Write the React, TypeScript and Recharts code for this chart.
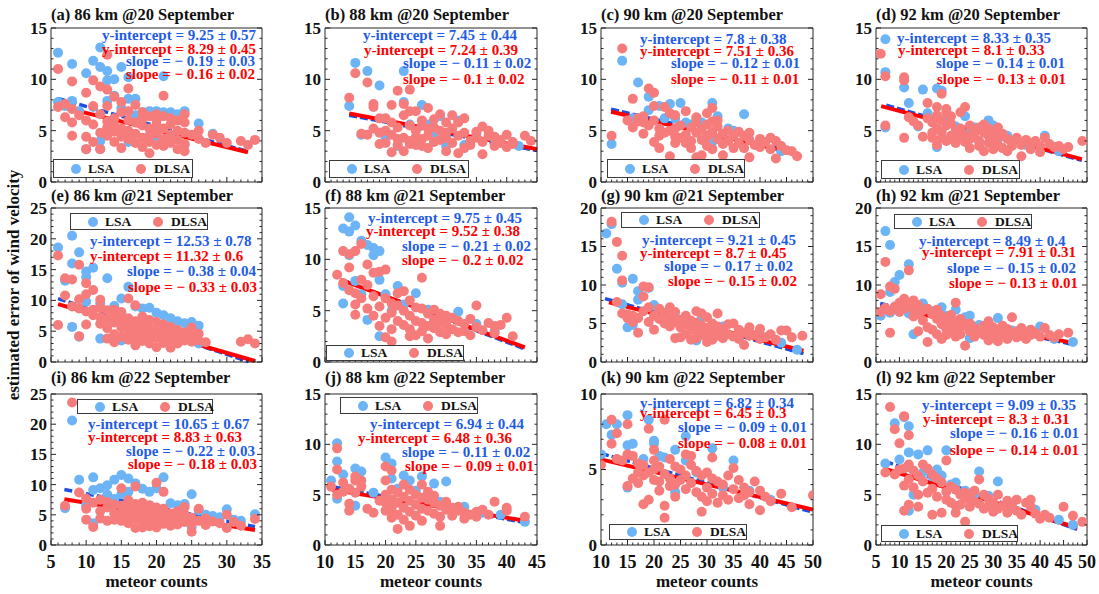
import React from "react"
import { ScatterChart, Scatter, XAxis, YAxis, ReferenceLine } from "recharts"

type Pt = [number, number]
type Seg = [number, number, number, number]

// (meteor count, estimated error) per panel
const lsaA: Pt[] = [[6,12.6],[6,7.8],[7,7.4],[8,11.5],[8,7.9],[9,6.9],[10,10.6],[10,3.2],[11,11.8],[11,7.3],[12,13.1],[12,11.2],[12,4.0],[13,10.8],[13,9.9],[13,7.9],[14,10.0],[14,8.4],[15,11.2],[15,7.2],[16,10.2],[16,8.1],[17,8.1],[17,6.5],[18,6.8],[19,6.9],[20,6.9],[21,10.3],[21,6.8],[22,6.8],[23,6.6],[24,6.9],[26,5.7],[28,4.7],[12,3.2],[16,3.9],[20,3.9],[24,3.6]]
const dlsaA: Pt[] = [[6,11.0],[6,7.3],[7,6.3],[7,7.6],[8,9.8],[8,4.5],[8,7.1],[9,6.5],[10,8.7],[10,3.2],[10,6.0],[11,9.9],[11,7.4],[11,5.6],[12,9.3],[12,4.8],[12,6.6],[12,3.2],[13,12.4],[13,9.0],[13,7.4],[13,5.3],[13,4.5],[13,5.9],[14,8.3],[14,6.2],[14,4.9],[14,3.9],[14,5.6],[15,7.8],[15,6.8],[15,5.2],[15,4.4],[15,3.3],[16,9.1],[16,6.0],[16,5.0],[16,4.2],[16,6.9],[17,7.5],[17,5.8],[17,4.7],[17,3.8],[18,6.8],[18,5.5],[18,4.3],[18,3.4],[18,6.2],[19,6.4],[19,5.2],[19,4.5],[19,3.9],[19,2.8],[20,6.6],[20,5.5],[20,4.7],[20,3.6],[20,6.0],[21,8.4],[21,6.4],[21,5.2],[21,4.2],[21,3.5],[22,6.2],[22,5.6],[22,4.6],[22,3.8],[23,6.0],[23,5.0],[23,4.1],[23,3.2],[24,6.6],[24,5.8],[24,4.8],[24,3.7],[24,3.0],[25,4.6],[26,5.0],[26,4.2],[27,3.8],[28,4.6],[29,4.3],[30,3.8],[32,4.0],[33,3.6],[34,4.1],[8,5.8],[10,4.4],[11,3.9]]

const lsaB: Pt[] = [[14,7.4],[15,11.6],[17,10.8],[19,9.4],[23,10.8],[23,7.8],[26,7.5],[29,6.4],[32,6.0],[35,4.7],[16,4.6],[20,4.2],[22,3.5],[24,5.6],[27,5.6],[30,3.5],[25,4.2],[28,4.8],[33,3.6],[38,4.2],[42,3.5]]
const dlsaB: Pt[] = [[14,8.2],[15,10.6],[17,9.7],[18,7.3],[18,7.6],[19,6.2],[19,4.8],[20,5.0],[20,3.8],[20,6.2],[21,4.6],[21,7.5],[21,5.8],[22,8.9],[22,5.3],[22,3.6],[22,4.2],[23,6.5],[23,4.3],[23,3.0],[23,7.6],[24,9.0],[24,6.9],[24,5.5],[24,4.0],[25,6.9],[25,5.0],[25,3.6],[25,4.4],[26,5.5],[26,4.2],[26,3.5],[26,6.0],[27,7.2],[27,5.2],[27,4.5],[27,3.3],[28,6.1],[28,5.3],[28,3.9],[29,5.0],[29,4.1],[29,6.6],[30,5.8],[30,4.8],[30,3.0],[30,4.3],[31,5.2],[31,3.8],[31,6.5],[32,4.5],[32,5.8],[32,2.8],[33,3.3],[33,4.8],[33,6.2],[34,4.0],[34,3.6],[35,4.9],[35,4.3],[36,5.4],[36,2.7],[36,3.9],[37,4.5],[37,5.0],[38,3.5],[38,4.4],[39,4.1],[39,3.8],[40,4.6],[40,3.4],[41,3.7],[41,3.9],[43,4.5],[44,4.0],[16,4.7],[17,4.6],[18,5.2],[19,3.7],[21,2.9],[24,3.7]]

const lsaC: Pt[] = [[12,3.7],[14,11.8],[17,9.7],[19,8.3],[19,7.0],[21,7.4],[23,7.6],[25,7.7],[31,7.7],[32,6.4],[37,6.6],[16,6.2],[18,6.0],[22,6.2],[24,6.2],[27,5.6],[29,5.8],[30,4.3],[34,5.2],[31,3.9],[35,5.0],[40,3.8],[44,3.0],[26,5.8],[28,6.1]]
const dlsaC: Pt[] = [[12,4.5],[14,13.0],[16,8.1],[17,6.2],[17,5.9],[18,4.7],[18,6.4],[19,9.1],[19,5.5],[20,8.7],[20,7.4],[20,3.9],[20,6.0],[21,3.3],[21,5.2],[22,7.3],[22,4.8],[23,2.5],[23,6.7],[23,5.0],[24,4.4],[24,6.5],[24,3.8],[25,5.5],[25,4.3],[26,6.9],[26,4.6],[26,3.8],[27,5.3],[27,4.0],[27,3.3],[28,6.3],[28,4.8],[28,2.4],[28,5.8],[29,5.1],[29,4.1],[29,2.6],[30,6.7],[30,5.6],[30,4.4],[30,3.5],[31,7.2],[31,5.9],[31,4.9],[31,3.2],[32,5.4],[32,4.2],[32,6.0],[33,4.7],[33,3.7],[33,2.6],[34,5.0],[34,4.0],[35,4.5],[35,3.3],[36,4.9],[36,3.8],[37,4.5],[37,3.3],[38,4.8],[38,4.1],[38,2.4],[39,3.6],[40,4.2],[40,3.4],[41,3.9],[42,4.3],[42,3.2],[43,2.3],[43,4.0],[44,3.5],[45,3.1],[46,3.0],[47,2.5],[16,5.3],[18,5.8],[15,6.0],[21,4.5],[24,5.2]]

const lsaD: Pt[] = [[7,13.9],[7,10.7],[7,5.3],[11,9.2],[12,7.7],[14,5.4],[15,9.0],[18,9.1],[19,8.9],[18,3.4],[24,6.4],[25,4.9],[29,6.0],[30,5.5],[41,4.5],[16,6.7],[20,6.2],[22,5.4],[26,5.3],[33,4.5],[37,3.6],[44,3.0],[21,4.2],[27,3.9],[31,4.2]]
const dlsaD: Pt[] = [[6,12.5],[7,10.3],[7,5.5],[11,10.2],[11,9.9],[11,4.3],[12,6.3],[13,5.9],[14,5.5],[15,4.4],[16,7.7],[16,6.2],[17,5.8],[17,4.3],[18,7.3],[18,6.5],[18,5.2],[18,3.6],[19,8.6],[19,6.0],[19,4.9],[19,4.3],[20,6.8],[20,5.5],[20,4.0],[21,5.7],[21,4.5],[21,6.4],[22,5.0],[22,4.1],[22,3.8],[23,6.8],[23,5.2],[23,4.3],[24,7.3],[24,4.6],[24,3.9],[25,5.5],[25,4.2],[25,3.3],[26,5.0],[26,4.4],[27,5.3],[27,4.0],[27,3.5],[28,4.8],[28,5.6],[28,3.0],[29,4.5],[29,3.8],[29,5.2],[30,4.9],[30,4.0],[30,3.2],[31,4.4],[31,5.3],[31,3.6],[32,4.7],[32,3.3],[33,4.2],[33,3.0],[34,3.9],[34,3.5],[35,4.3],[36,2.5],[36,3.6],[37,4.1],[38,3.8],[38,3.2],[39,4.0],[40,3.5],[40,2.9],[41,4.3],[42,3.7],[43,3.4],[44,3.5],[45,3.2],[46,3.4],[49,4.0],[17,4.8],[20,7.1]]

const lsaE: Pt[] = [[6,18.6],[7,13.2],[8,20.5],[8,16.0],[8,5.7],[9,17.8],[9,4.1],[10,14.7],[10,13.8],[10,9.8],[11,15.3],[12,9.5],[13,13.6],[14,9.1],[15,10.3],[16,12.2],[17,9.0],[18,8.7],[19,8.8],[20,8.0],[21,7.6],[22,7.1],[23,6.6],[24,6.3],[25,6.5],[26,5.9],[12,3.8],[15,3.5],[18,4.2],[23,3.8],[26,3.0]]
const dlsaE: Pt[] = [[6,17.3],[6,6.0],[7,13.6],[7,10.8],[8,13.4],[8,9.0],[9,15.8],[9,10.2],[9,4.2],[9,8.7],[10,12.8],[10,8.2],[10,6.1],[10,11.0],[11,11.7],[11,8.5],[11,7.6],[12,10.1],[12,7.3],[12,6.2],[13,8.4],[13,7.0],[13,3.8],[13,5.5],[14,7.8],[14,6.4],[14,4.5],[14,3.2],[15,8.1],[15,6.9],[15,5.6],[15,4.1],[16,10.3],[16,7.1],[16,5.9],[16,4.6],[16,3.6],[17,9.2],[17,6.6],[17,5.2],[17,3.9],[17,2.7],[18,7.4],[18,6.0],[18,4.8],[18,3.4],[19,6.8],[19,5.4],[19,4.2],[19,3.0],[20,6.5],[20,5.1],[20,3.9],[20,2.4],[21,6.1],[21,5.0],[21,3.8],[21,3.1],[22,5.7],[22,4.6],[22,3.5],[22,2.3],[23,5.2],[23,4.0],[23,3.0],[24,4.8],[24,3.5],[25,5.6],[25,4.2],[25,3.3],[26,4.6],[26,3.5],[27,3.2],[32,3.3],[33,3.7],[34,3.0],[12,8.8],[14,8.5]]

const lsaF: Pt[] = [[13,13.0],[13,7.4],[13,5.7],[14,14.1],[14,12.7],[14,10.4],[15,13.3],[15,7.9],[16,11.8],[17,11.4],[17,4.1],[18,11.1],[18,10.4],[19,10.8],[19,8.0],[19,2.5],[22,7.4],[25,6.7],[32,4.9],[20,6.6],[23,5.6],[27,5.1],[30,4.0],[35,3.7],[38,3.0],[16,6.6],[21,5.0]]
const dlsaF: Pt[] = [[12,8.5],[13,10.8],[13,7.7],[14,9.2],[14,7.0],[14,10.5],[15,10.8],[15,5.6],[15,4.6],[15,6.7],[16,11.5],[16,8.0],[16,6.2],[17,9.5],[17,7.5],[17,5.2],[18,8.7],[18,6.4],[18,4.5],[19,8.8],[19,5.4],[19,3.5],[20,9.0],[20,6.2],[20,4.3],[20,2.4],[21,5.7],[21,4.8],[21,3.2],[22,6.7],[22,5.5],[22,4.0],[23,6.9],[23,5.0],[23,3.6],[24,6.0],[24,4.5],[24,3.2],[25,5.3],[25,4.0],[25,2.6],[26,8.2],[26,5.2],[26,3.8],[26,3.0],[27,4.7],[27,3.5],[27,2.3],[28,5.1],[28,4.1],[28,3.3],[29,4.7],[29,3.8],[29,2.9],[30,4.5],[30,3.6],[30,2.7],[31,4.3],[31,3.2],[32,4.0],[32,2.9],[33,3.7],[33,3.0],[34,4.2],[34,2.6],[35,5.5],[35,3.4],[36,3.1],[37,3.8],[38,3.5],[38,2.8],[39,3.6],[40,4.3],[41,2.5],[21,2.0],[24,2.5]]

const lsaG: Pt[] = [[11,16.7],[12,17.9],[13,12.1],[14,10.3],[16,10.8],[17,9.2],[17,8.1],[19,9.6],[15,4.5],[16,4.8],[20,7.4],[26,5.7],[28,2.8],[29,5.9],[14,7.5],[22,6.4],[24,5.8],[33,4.6],[36,3.8],[40,3.4],[44,2.5],[47,1.6],[31,4.4]]
const dlsaG: Pt[] = [[12,18.2],[13,15.6],[13,7.8],[14,13.8],[14,10.6],[14,6.3],[15,5.7],[15,6.2],[16,5.2],[16,6.0],[17,3.8],[17,5.7],[18,9.8],[18,8.5],[18,6.6],[19,9.7],[19,7.1],[19,5.2],[20,6.0],[20,4.2],[21,6.9],[21,5.6],[22,6.3],[22,5.0],[23,7.1],[23,5.8],[23,4.6],[24,6.5],[24,3.1],[24,5.2],[25,5.5],[25,4.5],[26,6.0],[26,4.9],[26,3.6],[27,5.4],[27,4.2],[27,2.9],[28,6.6],[28,5.1],[28,3.9],[28,3.1],[29,6.3],[29,4.7],[29,3.5],[30,5.8],[30,4.4],[30,3.2],[31,5.0],[31,3.8],[31,2.9],[32,6.3],[32,4.6],[32,3.4],[33,4.2],[33,3.1],[34,4.9],[34,3.6],[35,5.0],[35,3.3],[36,4.2],[36,3.0],[37,3.8],[37,2.2],[38,4.5],[38,3.4],[39,3.5],[40,4.3],[40,3.0],[41,3.2],[42,3.6],[43,2.9],[44,4.1],[45,4.1],[46,3.2],[48,3.4],[25,3.2],[30,2.6]]

const lsaH: Pt[] = [[6,6.0],[7,17.0],[8,15.2],[8,9.1],[8,6.4],[9,10.4],[10,11.3],[12,12.7],[12,6.3],[13,3.6],[15,7.6],[19,7.1],[22,6.8],[24,5.8],[25,6.0],[25,3.1],[31,5.7],[40,4.6],[17,6.6],[20,6.0],[27,4.8],[34,4.1],[43,3.0],[47,2.6],[36,3.6]]
const dlsaH: Pt[] = [[6,8.8],[6,6.5],[7,13.0],[7,7.0],[8,9.8],[8,3.8],[8,6.6],[9,9.5],[9,7.2],[10,7.7],[10,6.5],[11,8.2],[11,6.9],[12,11.9],[12,7.6],[13,8.0],[13,6.8],[13,5.9],[14,7.4],[14,6.2],[14,4.0],[15,6.7],[15,5.4],[16,6.9],[16,2.6],[16,4.5],[17,6.2],[17,4.2],[18,6.8],[18,5.6],[18,3.6],[19,6.0],[19,4.9],[20,5.5],[20,4.3],[20,3.5],[21,6.1],[21,4.8],[21,3.9],[22,7.7],[22,5.2],[22,4.1],[22,3.3],[23,5.6],[23,4.4],[23,3.6],[24,4.9],[24,2.1],[25,5.0],[25,4.0],[26,4.4],[26,3.3],[27,3.8],[28,4.7],[28,3.5],[29,5.3],[29,4.0],[29,2.8],[30,4.5],[30,3.4],[31,4.2],[31,2.7],[32,4.7],[32,3.6],[33,4.3],[33,3.0],[34,5.8],[34,3.7],[35,4.0],[35,3.2],[36,4.4],[36,3.4],[37,3.9],[37,3.0],[38,4.2],[38,3.5],[39,3.8],[40,3.3],[41,4.4],[42,3.5],[43,3.2],[44,3.6],[46,3.8],[19,3.0]]

const lsaI: Pt[] = [[7,6.1],[8,20.6],[9,10.8],[10,6.6],[11,11.2],[11,9.1],[11,3.6],[12,9.4],[13,9.9],[13,8.3],[14,10.8],[14,7.6],[15,11.6],[15,8.4],[16,11.0],[16,8.8],[17,10.2],[18,9.3],[19,8.8],[20,9.4],[21,11.2],[22,6.9],[23,6.6],[24,6.8],[25,8.4],[25,3.0],[26,5.7],[27,5.0],[28,4.8],[29,4.6],[30,5.9],[31,4.2],[32,4.0],[34,5.1],[19,4.6],[22,4.2]]
const dlsaI: Pt[] = [[7,6.5],[8,23.6],[9,8.7],[10,7.7],[10,4.2],[10,6.0],[11,3.0],[11,7.0],[12,7.5],[12,5.6],[12,4.4],[13,7.1],[13,6.2],[13,4.0],[14,6.7],[14,5.2],[14,4.2],[15,9.4],[15,6.5],[15,5.3],[15,4.0],[16,7.4],[16,6.0],[16,4.8],[16,3.6],[17,9.7],[17,6.8],[17,5.5],[17,4.3],[17,2.8],[18,6.3],[18,5.1],[18,3.9],[18,2.9],[19,6.6],[19,5.3],[19,4.2],[19,3.1],[20,10.3],[20,6.2],[20,5.0],[20,3.8],[20,2.9],[21,8.8],[21,6.0],[21,4.7],[21,3.5],[22,5.2],[22,4.0],[22,3.2],[23,5.6],[23,4.4],[23,3.4],[24,5.1],[24,3.8],[25,4.5],[25,2.2],[25,3.5],[26,6.0],[26,4.0],[27,4.4],[27,3.3],[28,3.9],[29,3.6],[30,5.0],[30,2.8],[31,3.8],[32,3.2],[34,4.3],[24,6.3],[18,7.0]]

const lsaJ: Pt[] = [[11,6.4],[12,10.1],[12,8.3],[12,4.6],[13,7.0],[15,7.6],[15,3.9],[16,7.3],[20,8.7],[21,8.1],[21,6.6],[23,6.9],[24,6.4],[26,6.8],[28,6.1],[29,4.3],[30,6.3],[43,2.3],[18,5.2],[22,5.6],[25,5.4],[33,3.8],[36,3.2],[39,3.0]]
const dlsaJ: Pt[] = [[11,5.8],[12,9.6],[12,7.5],[12,5.0],[13,6.2],[13,5.3],[14,4.1],[14,3.4],[14,5.6],[15,6.8],[15,6.4],[15,5.2],[16,5.8],[16,6.4],[17,3.6],[18,3.2],[20,7.8],[20,6.4],[20,5.0],[20,4.2],[20,3.4],[21,7.4],[21,5.5],[21,4.5],[21,3.6],[21,2.7],[22,5.2],[22,4.2],[22,3.0],[22,1.6],[23,6.0],[23,4.8],[23,3.7],[23,2.5],[24,5.5],[24,4.4],[24,3.3],[24,1.9],[25,5.0],[25,4.0],[25,2.9],[26,6.0],[26,4.7],[26,3.6],[26,2.4],[27,4.5],[27,3.4],[28,4.2],[28,3.1],[28,4.9],[29,3.9],[29,1.9],[29,2.8],[30,4.3],[30,3.5],[31,3.7],[31,2.9],[32,3.4],[32,3.8],[33,2.6],[33,3.2],[34,3.0],[35,3.3],[35,2.8],[36,3.5],[37,3.0],[38,4.3],[40,3.7],[40,3.4],[43,2.8],[19,4.4],[27,5.3]]

const lsaK: Pt[] = [[10,6.0],[11,8.0],[12,7.3],[13,8.0],[15,8.6],[15,6.6],[15,3.8],[16,6.7],[19,8.3],[20,6.9],[20,6.7],[22,5.8],[24,6.3],[24,3.5],[26,5.6],[26,7.2],[28,4.8],[31,6.4],[35,5.6],[38,3.6],[18,5.7],[21,5.9],[33,3.8],[42,3.0]]
const dlsaK: Pt[] = [[10,5.3],[12,8.3],[12,6.7],[13,7.4],[13,5.7],[14,5.6],[15,8.0],[15,6.0],[15,3.9],[16,5.9],[16,4.4],[17,5.4],[17,4.1],[18,5.3],[18,2.7],[18,4.6],[19,7.7],[19,3.0],[19,4.8],[20,6.3],[20,5.6],[20,4.3],[20,5.0],[21,5.2],[21,4.2],[21,3.6],[22,8.3],[22,2.6],[22,1.8],[22,4.7],[23,5.7],[23,4.4],[23,3.9],[24,5.2],[24,4.0],[24,3.2],[25,5.0],[25,4.3],[26,6.0],[26,4.6],[26,3.7],[27,5.3],[27,4.1],[28,4.9],[28,3.5],[29,4.6],[29,2.2],[29,3.2],[30,4.8],[30,3.8],[30,2.9],[31,4.4],[31,3.4],[31,5.8],[32,4.2],[32,2.8],[33,4.0],[33,3.3],[34,4.6],[34,3.0],[35,5.1],[35,3.7],[36,4.3],[36,3.1],[37,3.8],[37,3.3],[38,3.5],[38,2.7],[39,4.2],[40,3.6],[40,2.3],[41,3.2],[42,2.9],[44,3.4],[46,2.5],[50,3.3],[27,5.9],[17,4.8]]

const lsaL: Pt[] = [[7,8.1],[9,12.1],[10,8.5],[11,12.7],[12,11.8],[12,9.2],[12,3.4],[13,5.0],[14,9.0],[16,9.4],[18,7.5],[20,9.4],[22,6.2],[27,7.3],[31,6.3],[15,7.2],[17,6.8],[19,6.9],[21,6.0],[24,5.4],[26,5.0],[29,4.9],[34,4.1],[39,3.5],[44,2.5],[47,2.0]]
const dlsaL: Pt[] = [[7,7.2],[8,13.7],[9,11.5],[9,7.0],[10,10.1],[10,7.5],[11,12.8],[11,7.6],[11,3.4],[11,5.9],[12,10.9],[12,8.0],[12,4.0],[12,6.5],[13,7.4],[13,5.7],[14,6.9],[14,5.0],[15,8.0],[15,6.3],[16,7.6],[16,5.2],[17,7.0],[17,3.0],[17,5.6],[18,6.6],[18,4.8],[19,3.2],[19,6.2],[20,8.4],[20,5.3],[20,4.5],[21,5.8],[21,4.2],[22,5.5],[22,3.9],[23,5.0],[23,4.0],[24,2.3],[24,4.6],[24,5.2],[25,4.8],[25,3.8],[26,4.3],[26,5.4],[27,6.5],[27,4.1],[28,5.0],[28,3.6],[29,4.6],[29,3.9],[30,4.2],[30,3.3],[31,5.0],[31,3.6],[32,3.9],[33,4.4],[33,3.2],[34,3.7],[35,4.5],[35,3.4],[36,3.0],[37,4.2],[38,3.8],[38,4.5],[39,3.1],[40,2.6],[41,3.0],[42,2.7],[45,3.8],[47,2.9],[49,2.3],[14,3.8],[22,3.2]]

const lsaPts = [lsaA, lsaB, lsaC, lsaD, lsaE, lsaF, lsaG, lsaH, lsaI, lsaJ, lsaK, lsaL]
const dlsaPts = [dlsaA, dlsaB, dlsaC, dlsaD, dlsaE, dlsaF, dlsaG, dlsaH, dlsaI, dlsaJ, dlsaK, dlsaL]

// fitted lines as drawn: [x1, y1, x2, y2]
const fitLsa: Seg[] = [[6,8.13,33,2.97],[14,6.5,45,3.06],[11.9,7.1,46.3,2.97],[7.2,7.48,48.9,2.1],[6,10.3,33.1,0.05],[12.6,8.05,43,1.27],[10.75,8.23,48.2,1.08],[5.9,7.6,46.8,2.3],[6.9,9.2,34,3.04],[11.5,5.77,43.1,2.21],[10,6.06,50,2.17],[7,8.3,47.9,1.55]]
const fitDlsa: Seg[] = [[6,7.39,33,2.9],[14,6.68,45,3.2],[11.9,6.84,47.2,2.74],[6.1,7.39,48.9,2.23],[6,9.4,34,0.16],[12.6,7.99,43,1.43],[11.5,7.75,48.2,1.47],[5.9,7.17,46.8,2.52],[6.9,7.56,34,2.48],[11.1,5.5,43.1,2.4],[10,5.67,50,2.34],[7,7.55,47.9,1.71]]

const titles = [
  "(a) 86 km @20 September", "(b) 88 km @20 September", "(c) 90 km @20 September", "(d) 92 km @20 September",
  "(e) 86 km @21 September", "(f) 88 km @21 September", "(g) 90 km @21 September", "(h) 92 km @21 September",
  "(i) 86 km @22 September", "(j) 88 km @22 September", "(k) 90 km @22 September", "(l) 92 km @22 September",
]
const lsaIntercept = ["9.25 ± 0.57","7.45 ± 0.44","7.8 ± 0.38","8.33 ± 0.35","12.53 ± 0.78","9.75 ± 0.45","9.21 ± 0.45","8.49 ± 0.4","10.65 ± 0.67","6.94 ± 0.44","6.82 ± 0.34","9.09 ± 0.35"]
const dlsaIntercept = ["8.29 ± 0.45","7.24 ± 0.39","7.51 ± 0.36","8.1 ± 0.33","11.32 ± 0.6","9.52 ± 0.38","8.7 ± 0.45","7.91 ± 0.31","8.83 ± 0.63","6.48 ± 0.36","6.45 ± 0.3","8.3 ± 0.31"]
const lsaSlope = ["0.19 ± 0.03","0.11 ± 0.02","0.12 ± 0.01","0.14 ± 0.01","0.38 ± 0.04","0.21 ± 0.02","0.17 ± 0.02","0.15 ± 0.02","0.22 ± 0.03","0.11 ± 0.02","0.09 ± 0.01","0.16 ± 0.01"]
const dlsaSlope = ["0.16 ± 0.02","0.1 ± 0.02","0.11 ± 0.01","0.13 ± 0.01","0.33 ± 0.03","0.2 ± 0.02","0.15 ± 0.02","0.13 ± 0.01","0.18 ± 0.03","0.09 ± 0.01","0.08 ± 0.01","0.14 ± 0.01"]

const xDomains: [number, number][] = [[5, 35], [10, 45], [10, 50], [5, 50]]
const xTickLabels = [[5,10,15,20,25,30,35],[10,15,20,25,30,35,40,45],[10,15,20,25,30,35,40,45,50],[5,10,15,20,25,30,35,40,45,50]]
const yMax = [15, 15, 15, 15, 25, 15, 20, 20, 25, 15, 10, 15]

// layout (page pixels)
const colLeft = [51, 325, 601, 876]
const colW = [211, 212, 212, 211]
const rowTop = [28, 208, 394]
const rowH = [154, 154, 151]
const titleY = [15, 196, 378]
const annX = [[51,51,75,75],[38,39,78,78],[39,39,70,70],[21,22,60,61],[39,39,76,77],[43,41,77,77],[41,39,63,67],[43,46,71,73],[37,37,75,77],[45,33,77,80],[39,39,77,77],[46,47,74,74]]
const annY = [[7,21,33,46],[7,22,35,51],[11,23,35,51],[10,22,35,51],[33,48,63,79],[10,23,38,52],[32,45,58,73],[33,44,60,75],[30,43,57,70],[30,44,58,72],[9,19,33,49],[11,25,39,56]]
const legendBox = [[2,131,140,19],[4,132,140,18],[6,131,138,19],[5,132,139,19],[19,5,138,17],[1,137,138,16],[20,4,139,16],[18,6,138,15],[26,5,136,15],[15,3,138,17],[8,130,138,16],[5,131,137,17]]

const FONT = "'Liberation Serif', 'Times New Roman', serif"
const LSA_DOT = "#6cb4f6"
const DLSA_DOT = "#f67c7c"
const LSA_LINE = "#1c4fe2"
const DLSA_LINE = "#ff0000"
const LSA_TEXT = "#1f5ce6"
const DLSA_TEXT = "#ff0000"
const AXIS = "#262626"

const range = (a: number, b: number) => Array.from({ length: b - a + 1 }, (_, k) => a + k)

const makeXTick = (major: number[], side: "bottom" | "top", label: boolean) => (p: any) => {
  const v = p.payload.value
  const isMajor = major.includes(v)
  const len = isMajor ? 5 : 2.5
  const dir = side === "bottom" ? -1 : 1
  return (
    <g>
      <line x1={p.x} x2={p.x} y1={p.y} y2={p.y + dir * len} stroke={AXIS} strokeWidth={1} />
      {label && isMajor && (
        <text x={p.x} y={p.y + 23} textAnchor="middle" fontFamily={FONT} fontWeight="bold" fontSize={18} fill="#111">{v}</text>
      )}
    </g>
  )
}

const makeYTick = (major: number[], side: "left" | "right") => (p: any) => {
  const v = p.payload.value
  const isMajor = major.includes(v)
  const len = isMajor ? 5 : 2.5
  const dir = side === "left" ? 1 : -1
  return (
    <g>
      <line x1={p.x} x2={p.x + dir * len} y1={p.y} y2={p.y} stroke={AXIS} strokeWidth={1} />
      {side === "left" && isMajor && (
        <text x={p.x - 4} y={p.y} dy="0.35em" textAnchor="end" fontFamily={FONT} fontWeight="bold" fontSize={17} fill="#111">{v}</text>
      )}
    </g>
  )
}

function Panel({ i }: { i: number }) {
  const col = i % 4
  const row = Math.floor(i / 4)
  const left = colLeft[col], top = rowTop[row], pw = colW[col], ph = rowH[row]
  const bottomRow = row === 2
  const YW = 40, RW = 6, TH = 6, XH = bottomRow ? 32 : 6
  const xd = xDomains[col]
  const xMajor = xTickLabels[col]
  const xTicks = range(xd[0], xd[1])
  const yM = yMax[i]
  const yMajor = range(0, yM / 5).map((k) => k * 5)
  const yTicks = range(0, yM)
  const lsa = lsaPts[i].map(([x, y]) => ({ x, y }))
  const dlsa = dlsaPts[i].map(([x, y]) => ({ x, y }))
  const fl = fitLsa[i], fd = fitDlsa[i]
  const lg = legendBox[i]
  const lines = [
    { t: `y-intercept = ${lsaIntercept[i]}`, c: LSA_TEXT },
    { t: `y-intercept = ${dlsaIntercept[i]}`, c: DLSA_TEXT },
    { t: `slope = − ${lsaSlope[i]}`, c: LSA_TEXT },
    { t: `slope = − ${dlsaSlope[i]}`, c: DLSA_TEXT },
  ]

  return (
    <>
      <div style={{ position: "absolute", left: left, top: titleY[row] - 9, fontFamily: FONT, fontWeight: "bold", fontSize: 16.5, lineHeight: "18px", whiteSpace: "nowrap", color: "#111" }}>
        {titles[i]}
      </div>
      <div style={{ position: "absolute", left: left - YW, top: top - TH }}>
        <ScatterChart width={YW + pw + RW} height={TH + ph + XH} margin={{ top: 0, right: 0, bottom: 0, left: 0 }}>
          <XAxis xAxisId="b" type="number" dataKey="x" orientation="bottom" domain={xd} ticks={xTicks} interval={0} allowDataOverflow height={XH}
            tickSize={0} tickMargin={0} tickLine={false} axisLine={{ stroke: AXIS }} tick={makeXTick(xMajor, "bottom", bottomRow)} />
          <XAxis xAxisId="t" type="number" orientation="top" domain={xd} ticks={xTicks} interval={0} allowDataOverflow height={TH}
            tickSize={0} tickMargin={0} tickLine={false} axisLine={{ stroke: AXIS }} tick={makeXTick(xMajor, "top", false)} />
          <YAxis yAxisId="l" type="number" dataKey="y" orientation="left" domain={[0, yM]} ticks={yTicks} interval={0} allowDataOverflow width={YW}
            tickSize={0} tickMargin={0} tickLine={false} axisLine={{ stroke: AXIS }} tick={makeYTick(yMajor, "left")} />
          <YAxis yAxisId="r" type="number" orientation="right" domain={[0, yM]} ticks={yTicks} interval={0} allowDataOverflow width={RW}
            tickSize={0} tickMargin={0} tickLine={false} axisLine={{ stroke: AXIS }} tick={makeYTick(yMajor, "right")} />
          <Scatter xAxisId="b" yAxisId="l" data={lsa} isAnimationActive={false}
            shape={(p: any) => <circle cx={p.cx} cy={p.cy} r={5} fill={LSA_DOT} />} />
          <Scatter xAxisId="b" yAxisId="l" data={dlsa} isAnimationActive={false}
            shape={(p: any) => <circle cx={p.cx} cy={p.cy} r={5} fill={DLSA_DOT} />} />
          <ReferenceLine xAxisId="b" yAxisId="l" segment={[{ x: fl[0], y: fl[1] }, { x: fl[2], y: fl[3] }]}
            stroke={LSA_LINE} strokeWidth={3.5} strokeDasharray="8 3" />
          <ReferenceLine xAxisId="b" yAxisId="l" segment={[{ x: fd[0], y: fd[1] }, { x: fd[2], y: fd[3] }]}
            stroke={DLSA_LINE} strokeWidth={4} />
        </ScatterChart>
      </div>
      {lines.map((ln, k) => (
        <div key={k} style={{ position: "absolute", left: left + annX[i][k], top: top + annY[i][k] - 6, fontFamily: FONT, fontWeight: "bold", fontSize: 15, lineHeight: "12px", whiteSpace: "nowrap", color: ln.c }}>
          {ln.t}
        </div>
      ))}
      <div style={{ position: "absolute", left: left + lg[0], top: top + lg[1], width: lg[2], height: lg[3], boxSizing: "border-box", border: "1.5px solid #3a3a3a", background: "#fff", fontFamily: FONT, fontWeight: "bold", fontSize: 13.5, color: "#111" }}>
        <div style={{ position: "absolute", left: 17, top: "50%", marginTop: -5, width: 10, height: 10, borderRadius: 5, background: LSA_DOT }} />
        <div style={{ position: "absolute", left: 34, top: 0, height: "100%", display: "flex", alignItems: "center" }}>LSA</div>
        <div style={{ position: "absolute", left: 82, top: "50%", marginTop: -5, width: 10, height: 10, borderRadius: 5, background: DLSA_DOT }} />
        <div style={{ position: "absolute", left: 100, top: 0, height: "100%", display: "flex", alignItems: "center" }}>DLSA</div>
      </div>
      {bottomRow && (
        <div style={{ position: "absolute", left: left, width: pw, top: 572, textAlign: "center", fontFamily: FONT, fontWeight: "bold", fontSize: 17, lineHeight: "20px", color: "#111" }}>
          meteor counts
        </div>
      )}
    </>
  )
}

export default function App() {
  return (
    <div style={{ position: "absolute", left: 0, top: 0, width: 1099, height: 594, background: "#fff", overflow: "hidden" }}>
      <style>{`.recharts-surface { overflow: visible; } .recharts-wrapper { overflow: visible; }`}</style>
      {titles.map((_, i) => <Panel key={i} i={i} />)}
      <div style={{ position: "absolute", left: 14, top: 285, transform: "translate(-50%, -50%) rotate(-90deg)", fontFamily: FONT, fontWeight: "bold", fontSize: 17, whiteSpace: "nowrap", color: "#111" }}>
        estimated error of wind velocity
      </div>
    </div>
  )
}
